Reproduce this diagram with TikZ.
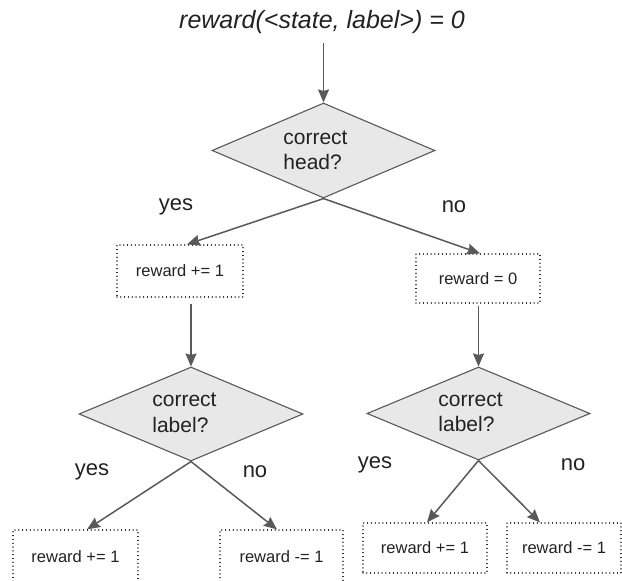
\documentclass[tikz,border=0pt]{standalone}
\usepackage{fontspec}
\setmainfont{Liberation Sans}
\usetikzlibrary{shapes.geometric,arrows.meta}
\definecolor{edgegray}{HTML}{595959}
\definecolor{fillgray}{HTML}{E8E8E8}
\definecolor{txt}{HTML}{222222}
\tikzset{
  decision/.style={diamond, draw=edgegray, fill=fillgray, line width=1.1pt,
    inner sep=0pt},
  dtext/.style={inner sep=0pt, align=left, text=txt,
    font=\fontsize{21}{25.5}\selectfont},
  action/.style={rectangle, draw=black, line width=1.2pt, line cap=round,
    dash pattern=on 0.01pt off 3.8pt, inner sep=0pt, text=txt,
    font=\fontsize{16.5}{19}\selectfont},
  arr/.style={draw=edgegray, line width=1.5pt,
    -{Stealth[length=13pt,width=11pt,inset=1.5pt]}},
  answer/.style={text=txt, inner sep=0pt, font=\fontsize{22}{26}\selectfont},
}
\begin{document}
\begin{tikzpicture}[x=1pt,y=-1pt]
\useasboundingbox (0,0) rectangle (622,581);
\begin{scope}
\clip (0,0) rectangle (622,581);

% start value
\node[text=txt, inner sep=0pt, font=\fontsize{25}{30}\selectfont\itshape]
  (title) at (322,22) {reward(<state, label>) = 0};

% decisions
\node[decision, minimum width=223pt, minimum height=95pt, aspect=2.35]
  (d1) at (323.5,150.5) {};
\node[decision, minimum width=224pt, minimum height=94pt, aspect=2.38]
  (d2) at (191,414) {};
\node[decision, minimum width=223pt, minimum height=93pt, aspect=2.4]
  (d3) at (478.5,413.5) {};
\node[dtext] (d1t) at ([xshift=-8pt]d1.center) {correct\\head?};
\node[dtext] (d2t) at ([xshift=-6.5pt,yshift=1pt]d2.center) {correct\\label?};
\node[dtext] (d3t) at ([xshift=-8pt,yshift=1pt]d3.center) {correct\\label?};

% reward updates
\node[action, minimum width=126pt, minimum height=52pt] (b1) at (180,271) {reward += 1};
\node[action, minimum width=124pt, minimum height=49pt] (b2) at (478,278.5) {reward = 0};
\node[action, minimum width=125pt, minimum height=53pt] (b3) at (75.5,556.5) {reward += 1};
\node[action, minimum width=123pt, minimum height=53pt] (b4) at (281.5,556.5) {reward -= 1};
\node[action, minimum width=124pt, minimum height=50pt] (b5) at (425,548) {reward += 1};
\node[action, minimum width=114pt, minimum height=50pt] (b6) at (564,548) {reward -= 1};

% branch labels
\node[answer] (y1) at (176,207) {yes};
\node[answer] (n1) at (454,207) {no};
\node[answer] (y2) at (92,472) {yes};
\node[answer] (n2) at (255,472) {no};
\node[answer] (y3) at (375,465) {yes};
\node[answer] (n3) at (573,465) {no};

% connectors
\draw[arr, shorten <=9pt] (title.south -| d1.north) -- (d1.north);
\draw[arr] (d1.south) -- ([xshift=7pt]b1.north);
\draw[arr] (d1.south) -- ([xshift=2pt]b2.north);
\draw[arr, shorten <=6pt] (d2.north |- b1.south) -- (d2.north);
\draw[arr, shorten <=2pt] (d3.north |- b2.south) -- (d3.north);
\draw[arr] (d2.south) -- ([xshift=11.5pt]b3.north);
\draw[arr] (d2.south) -- ([xshift=-4.5pt]b4.north);
\draw[arr] (d3.south) -- ([xshift=2pt]b5.north);
\draw[arr] (d3.south) -- ([xshift=-24pt]b6.north);
\end{scope}
\end{tikzpicture}
\end{document}
